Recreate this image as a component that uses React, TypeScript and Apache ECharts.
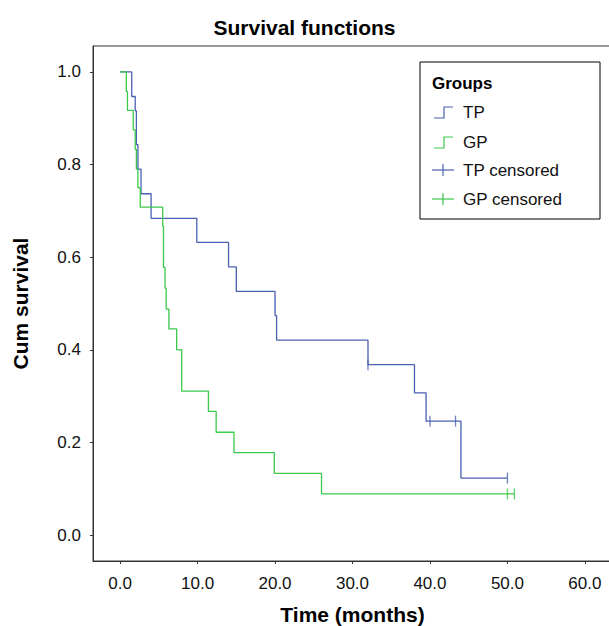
import React, { useEffect, useRef } from 'react';
import * as echarts from 'echarts';

// Kaplan-Meier events: [time, survival after event]
const tpSteps: number[][] = [
  [0, 1.0], [1.5, 0.947], [1.95, 0.916], [2.1, 0.843], [2.3, 0.79], [2.7, 0.737], [4.0, 0.684],
  [9.9, 0.632], [14.0, 0.579], [15.0, 0.526], [20.0, 0.474], [20.2, 0.421], [32.0, 0.368],
  [38.0, 0.307], [39.5, 0.246], [44.0, 0.123], [50.0, 0.123],
];
const gpSteps: number[][] = [
  [0, 1.0], [0.8, 0.958], [0.95, 0.917], [1.7, 0.875], [1.95, 0.833], [2.1, 0.79], [2.3, 0.75],
  [2.6, 0.708], [5.5, 0.667], [5.6, 0.578], [5.8, 0.533], [5.95, 0.488], [6.3, 0.445], [7.3, 0.4],
  [7.95, 0.311], [11.4, 0.267], [12.4, 0.222], [14.7, 0.178], [19.9, 0.133], [26.0, 0.089], [50.9, 0.089],
];
const tpCensored: number[][] = [[32.0, 0.368], [40.0, 0.246], [43.3, 0.246], [50.0, 0.123]];
const gpCensored: number[][] = [[50.0, 0.089], [50.9, 0.089]];
const xTicks = [0, 10, 20, 30, 40, 50, 60];
const yTicks = [0, 0.2, 0.4, 0.6, 0.8, 1.0];

const TP = '#4a60b0';
const GP = '#3cc84a';

const toStep = (steps: number[][]) => {
  const pts: number[][] = [];
  steps.forEach(([t, s], i) => {
    if (i > 0) pts.push([t, steps[i - 1][1]]);
    pts.push([t, s]);
  });
  return pts;
};

const App: React.FC = () => {
  const chartRef = useRef<HTMLDivElement | null>(null);

  useEffect(() => {
    if (!chartRef.current) return;
    const chart = echarts.init(chartRef.current, undefined, { renderer: 'svg' });
    const font = 'Arial, "Liberation Sans", sans-serif';
    const lx = 420;
    const ly = 62;
    const item = (y: number, color: string, label: string, censored: boolean): any[] => [
      censored
        ? { type: 'line', shape: { x1: lx + 12, y1: y, x2: lx + 34, y2: y }, style: { stroke: color, lineWidth: 1.2 } }
        : { type: 'polyline', shape: { points: [[lx + 14, y + 6], [lx + 24, y + 6], [lx + 24, y - 5], [lx + 33, y - 5]] }, style: { stroke: color, lineWidth: 1.2, fill: 'none' } },
      ...(censored ? [{ type: 'line', shape: { x1: lx + 23, y1: y - 6, x2: lx + 23, y2: y + 6 }, style: { stroke: color, lineWidth: 1.2 } }] : []),
      { type: 'text', x: lx + 43, y: y, style: { text: label, font: '17px ' + font, fill: '#111', verticalAlign: 'middle' } },
    ];
    chart.setOption({
      animation: false,
      title: {
        text: 'Survival functions', left: 'center', top: 12,
        textStyle: { fontSize: 21, fontWeight: 'bold', fontFamily: font, color: '#000' },
      },
      grid: {
        left: 93, right: -3, top: 46, bottom: 65, show: true, borderColor: '#333', borderWidth: 1,
        outerBoundsMode: 'none', containLabel: false,
      },
      xAxis: {
        type: 'value', min: -3.5, max: 63.5,
        name: 'Time (months)', nameLocation: 'middle', nameGap: 43,
        nameTextStyle: { fontSize: 21, fontWeight: 'bold', fontFamily: font, color: '#000' },
        axisLine: { show: true, onZero: false, lineStyle: { color: '#333' } },
        axisTick: { show: true, customValues: xTicks, length: 3, lineStyle: { color: '#333' } },
        axisLabel: { customValues: xTicks, formatter: (v: number) => v.toFixed(1), fontSize: 17, fontFamily: font, color: '#111', margin: 14 },
        splitLine: { show: false },
      },
      yAxis: {
        type: 'value', min: -0.056, max: 1.056,
        name: 'Cum survival', nameLocation: 'middle', nameGap: 62,
        nameTextStyle: { fontSize: 21, fontWeight: 'bold', fontFamily: font, color: '#000' },
        axisLine: { show: true, onZero: false, lineStyle: { color: '#333' } },
        axisTick: { show: true, customValues: yTicks, length: 3, lineStyle: { color: '#333' } },
        axisLabel: { customValues: yTicks, formatter: (v: number) => v.toFixed(1), fontSize: 17, fontFamily: font, color: '#111', margin: 12 },
        splitLine: { show: false },
      },
      series: [
        { type: 'line', data: toStep(tpSteps), showSymbol: false, lineStyle: { color: TP, width: 1.3 } },
        { type: 'line', data: toStep(gpSteps), showSymbol: false, lineStyle: { color: GP, width: 1.3 } },
        { type: 'scatter', data: tpCensored, symbol: 'rect', symbolSize: [1.3, 11], itemStyle: { color: TP } },
        { type: 'scatter', data: gpCensored, symbol: 'rect', symbolSize: [1.3, 11], itemStyle: { color: GP } },
      ],
      graphic: [
        { type: 'rect', shape: { x: lx, y: ly, width: 180, height: 157 }, style: { fill: '#fff', stroke: '#000', lineWidth: 1 } },
        { type: 'text', x: lx + 12, y: ly + 21, style: { text: 'Groups', font: 'bold 17px ' + font, fill: '#000', verticalAlign: 'middle' } },
        ...item(ly + 50, TP, 'TP', false),
        ...item(ly + 80, GP, 'GP', false),
        ...item(ly + 108, TP, 'TP censored', true),
        ...item(ly + 137, GP, 'GP censored', true),
      ],
    });
    return () => chart.dispose();
  }, []);

  return <div ref={chartRef} style={{ position: 'absolute', left: 0, top: 0, width: 609, height: 626 }} />;
};

export default App;
